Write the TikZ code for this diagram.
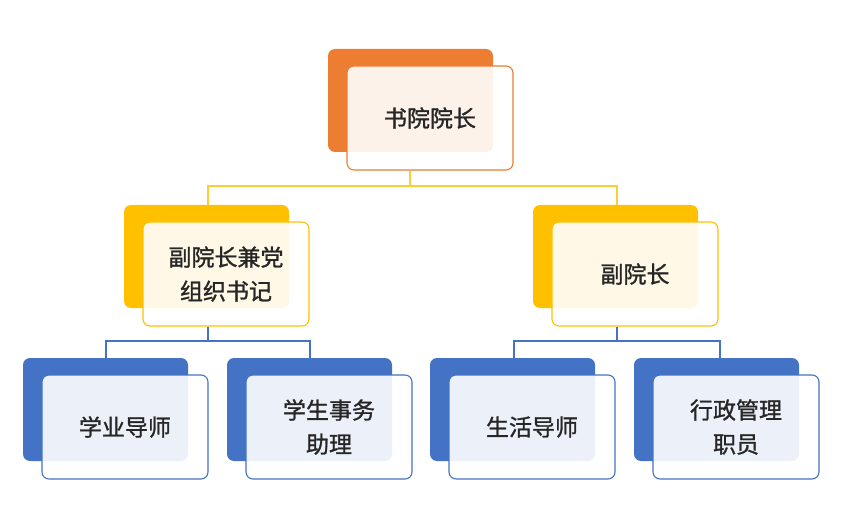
\documentclass[tikz,border=0pt]{standalone}
\usepackage{fontspec}
\newfontfamily\cjk[FakeBold=1.2]{Noto Sans CJK SC}
\definecolor{cOr}{HTML}{ED7D31}
\definecolor{cYe}{HTML}{FFC000}
\definecolor{cBl}{HTML}{4472C4}
\tikzset{
  back/.style={fill=#1,draw=none,rounded corners=7pt},
  front/.style={draw=#1,line width=1.1pt,fill=white,fill opacity=0.9,rounded corners=7pt,minimum width=166pt,minimum height=104pt,inner sep=0pt},
  lbl/.style={align=center,font=\cjk\fontsize{23}{34}\selectfont,text=black!85},
  conn/.style={draw=#1,line width=1.2pt}
}
\newcommand{\orgbox}[5]{%
  \fill[back=#4] (#2-102pt,#3+69pt) rectangle (#2+63pt,#3-34pt);
  \node[front=#4] (#1) at (#2,#3) {};
  \node[lbl] (#1t) at (#2,#3) {#5};
}
\begin{document}
\begin{tikzpicture}[x=1pt,y=1pt]
\useasboundingbox (0,0) rectangle (865,-505);
\orgbox{top}{430}{-118}{cOr}{书院院长}
\orgbox{vl}{226}{-274}{cYe}{副院长兼党\\组织书记}
\orgbox{vr}{635}{-274}{cYe}{副院长}
\orgbox{a}{125}{-427}{cBl}{学业导师}
\orgbox{b}{329}{-427}{cBl}{学生事务\\助理}
\orgbox{c}{532}{-427}{cBl}{生活导师}
\orgbox{d}{736}{-427}{cBl}{行政管理\\职员}
\coordinate (h1) at (410,-186);
\draw[conn=cYe!80] (top.south -| h1) -- (h1);
\draw[conn=cYe!80] (208,-205) |- (h1) -| (617,-205);
\coordinate (h2) at (208,-341);
\draw[conn=cBl] (vl.south -| h2) -- (h2);
\draw[conn=cBl] (106,-358) |- (h2) -| (310,-358);
\coordinate (h3) at (617,-341);
\draw[conn=cBl] (vr.south -| h3) -- (h3);
\draw[conn=cBl] (514,-358) |- (h3) -| (720,-358);
\end{tikzpicture}
\end{document}
